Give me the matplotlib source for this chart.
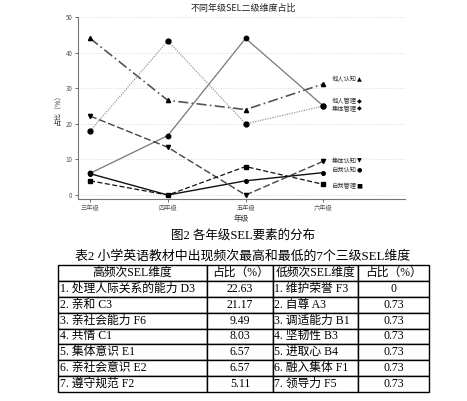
import matplotlib
matplotlib.use("Agg")
import matplotlib.pyplot as plt

plt.rcParams['font.family'] = ['Noto Sans CJK SC', 'DejaVu Sans']

grades = ["三年级", "四年级", "五年级", "六年级"]
series_names = ["他人认知", "他人管理", "集体管理", "集体认知", "自我认知", "自我管理"]
ta_renzhi = [44.0, 26.6, 24.0, 31.2]
ta_guanli = [6.1, 16.7, 44.0, 25.0]
jiti_guanli = [18.0, 43.3, 20.0, 25.0]
jiti_renzhi = [22.2, 13.4, 0.0, 9.5]
ziwo_renzhi = [6.0, 0.0, 4.0, 6.3]
ziwo_guanli = [4.0, 0.0, 8.0, 3.0]
label_y = [32.4, 26.3, 24.2, 9.6, 7.0, 2.5]
label_markers = ["▲", "◆", "◆", "▼", "●", "■"]

fig_caption = "图2 各年级SEL要素的分布"
table_title = "表2 小学英语教材中出现频次最高和最低的7个三级SEL维度"
col_headers = ["高频次SEL维度", "占比（%）", "低频次SEL维度", "占比（%）"]
high_dims = ["1. 处理人际关系的能力 D3", "2. 亲和 C3", "3. 亲社会能力 F6", "4. 共情 C1",
             "5. 集体意识 E1", "6. 亲社会意识 E2", "7. 遵守规范 F2"]
high_vals = ["22.63", "21.17", "9.49", "8.03", "6.57", "6.57", "5.11"]
low_dims = ["1. 维护荣誉 F3", "2. 自尊 A3", "3. 调适能力 B1", "4. 坚韧性 B3",
            "5. 进取心 B4", "6. 融入集体 F1", "7. 领导力 F5"]
low_vals = ["0", "0.73", "0.73", "0.73", "0.73", "0.73", "0.73"]

W, H = 467, 401
fig = plt.figure(figsize=(W / 100, H / 100), dpi=100)
fig.patch.set_facecolor("white")

ax = fig.add_axes([78 / W, 1 - 198.6 / H, (405 - 78) / W, 181.6 / H])
x = list(range(len(grades)))
styles = [
    (ta_renzhi, dict(color="#555555", ls=(0, (6, 2, 1, 2)), lw=1.2, marker="^", ms=3)),
    (ta_guanli, dict(color="#777777", ls="-", lw=0.9, marker="o", ms=3.2)),
    (jiti_guanli, dict(color="#999999", ls=(0, (1, 1)), lw=0.9, marker="o", ms=3.5)),
    (jiti_renzhi, dict(color="#444444", ls=(0, (5, 2)), lw=1.0, marker="v", ms=3)),
    (ziwo_renzhi, dict(color="#111111", ls="-", lw=1.0, marker="o", ms=2.6)),
    (ziwo_guanli, dict(color="#111111", ls=(0, (4, 2)), lw=0.9, marker="s", ms=2.6)),
]
for vals, st in styles:
    ax.plot(x, vals, mfc="black", mec="black", **st)

for name, ly, mk in zip(series_names, label_y, label_markers):
    ax.text(3.11, ly, name, fontsize=4.5, va="center", ha="left", color="#333333")
    ax.text(3.46, ly, mk, fontsize=4.5, va="center", ha="center", color="black",
            family=['DejaVu Sans'])

ax.set_xlim(-0.155, 4.05)
ax.set_ylim(-1, 50)
ax.set_yticks([0, 10, 20, 30, 40, 50])
ax.set_xticks(x)
ax.set_xticklabels(grades)
ax.tick_params(labelsize=4.5, length=2, width=0.6, colors="#555555", pad=2)
ax.grid(axis="y", ls=(0, (1, 2)), color="#cccccc", lw=0.6)
for s in ["top", "right"]:
    ax.spines[s].set_visible(False)
for s in ["left", "bottom"]:
    ax.spines[s].set_color("#777777")
    ax.spines[s].set_linewidth(0.8)
ax.set_xlabel("年级", fontsize=5.5, labelpad=2, color="#333333")
ax.set_ylabel("占比（%）", fontsize=5, labelpad=3, color="#333333")

fig.text(243 / W, 1 - 8 / H, "不同年级SEL二级维度占比", fontsize=6.5, ha="center", va="center",
         color="#222222")

cap_font = ['Liberation Serif', 'Noto Sans CJK SC']
fig.text(243 / W, 1 - 235.5 / H, fig_caption, fontsize=9, ha="center", va="center",
         family=cap_font)
fig.text(243 / W, 1 - 256 / H, table_title, fontsize=9.3, ha="center", va="center",
         family=cap_font)

tax = fig.add_axes([58 / W, 1 - 392 / H, 370.7 / W, 127 / H])
tax.axis("off")
cells = [[high_dims[i], high_vals[i], low_dims[i], low_vals[i]] for i in range(len(high_dims))]
colw = [149, 66, 85, 70.7]
tot = sum(colw)
tbl = tax.table(cellText=cells, colLabels=col_headers, colWidths=[c / tot for c in colw],
                bbox=[0, 0, 1, 1], cellLoc="center")
tbl.auto_set_font_size(False)
for (r, c), cell in tbl.get_celld().items():
    cell.set_linewidth(1.0)
    cell.set_edgecolor("black")
    t = cell.get_text()
    t.set_fontsize(8.5)
    t.set_fontfamily(cap_font)
    if r > 0 and c in (0, 2):
        t.set_ha("left")
        cell.PAD = 0.012
    else:
        t.set_ha("center")

fig.savefig("out.png", dpi=100)
